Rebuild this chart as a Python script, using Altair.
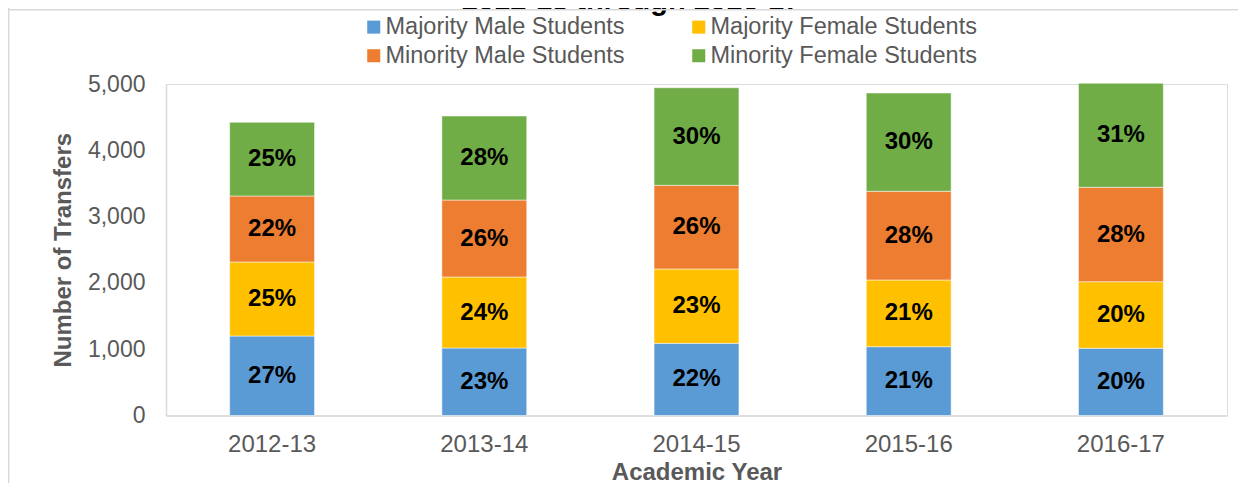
import altair as alt
import pandas as pd

years = ["2012-13", "2013-14", "2014-15", "2015-16", "2016-17"]
groups = ["Majority Male Students", "Majority Female Students",
          "Minority Male Students", "Minority Female Students"]
colors = ["#5B9BD5", "#FFC000", "#ED7D31", "#70AD47"]

majority_male = [1199, 1018, 1089, 1038, 1014]
majority_female = [1116, 1071, 1121, 1006, 1004]
minority_male = [996, 1161, 1262, 1338, 1424]
minority_female = [1111, 1267, 1472, 1482, 1569]

pct_majority_male = ["27%", "23%", "22%", "21%", "20%"]
pct_majority_female = ["25%", "24%", "23%", "21%", "20%"]
pct_minority_male = ["22%", "26%", "26%", "28%", "28%"]
pct_minority_female = ["25%", "28%", "30%", "30%", "31%"]

y_ticks = [0, 1000, 2000, 3000, 4000, 5000]
title_fragment = "2012-13 through 2016-17"

series = [majority_male, majority_female, minority_male, minority_female]
pcts = [pct_majority_male, pct_majority_female, pct_minority_male, pct_minority_female]

rows = []
for i, y in enumerate(years):
    base = 0
    for g, (name, vals, labs) in enumerate(zip(groups, series, pcts)):
        v = vals[i]
        rows.append({"year": y, "group": name, "order": g, "value": v,
                     "y0": base, "y1": base + v, "mid": base + v / 2,
                     "label": labs[i]})
        base += v
df = pd.DataFrame(rows)

# legend fills column by column: arrange so rows read
# Majority Male | Majority Female  /  Minority Male | Minority Female
legend_order = [groups[0], groups[2], groups[1], groups[3]]
legend_colors = [colors[0], colors[2], colors[1], colors[3]]

W, H = 1061, 331.5
PAD_L, PAD_T = 158, 76

x_enc = alt.X("year:N", sort=years,
              scale=alt.Scale(paddingInner=0.6, paddingOuter=0.3),
              axis=alt.Axis(title="Academic Year", labelAngle=0, ticks=False,
                            labelFontSize=24, labelColor="#595959",
                            labelFont="Liberation Sans", labelPadding=17,
                            domainColor="#D9D9D9", domainWidth=1.5,
                            titleFont="Liberation Sans", titleFontSize=24,
                            titleFontWeight="bold", titleColor="#595959",
                            titlePadding=4))

base = alt.Chart(df)

bars = base.mark_bar(stroke="white", strokeWidth=0.5).encode(
    x=x_enc,
    y=alt.Y("y0:Q", scale=alt.Scale(domain=[0, 5000], nice=False),
            axis=alt.Axis(title="Number of Transfers", values=y_ticks, format=",.0f",
                          ticks=False, grid=False, labelFontSize=23,
                          labelColor="#595959", labelFont="Liberation Sans",
                          labelPadding=21, domainColor="#D9D9D9", domainWidth=1.5,
                          titleFont="Liberation Sans", titleFontSize=24,
                          titleFontWeight="bold", titleColor="#595959",
                          titlePadding=12)),
    y2="y1:Q",
    color=alt.Color("group:N", sort=legend_order,
                    scale=alt.Scale(domain=legend_order, range=legend_colors),
                    legend=alt.Legend(title=None, orient="none", legendX=196, legendY=-69,
                                      columns=2, columnPadding=62, rowPadding=4,
                                      symbolType="square", symbolSize=170,
                                      symbolStrokeWidth=0, labelFontSize=23.5,
                                      labelFont="Liberation Sans", labelColor="#595959",
                                      labelLimit=0, labelOffset=0)),
    order="order:Q",
)

labels = base.mark_text(font="Liberation Sans", fontSize=24, fontWeight="bold",
                        color="black", baseline="middle", align="center").encode(
    x=alt.X("year:N", sort=years),
    y=alt.Y("mid:Q"),
    text="label:N",
)

frame_df = pd.DataFrame({"k": [0]})
frame_left = alt.Chart(frame_df).mark_rule(color="#D9D9D9", strokeWidth=1.5).encode(
    x=alt.value(-157.3), y=alt.value(-76), y2=alt.value(H + 70))
frame_top = alt.Chart(frame_df).mark_rule(color="#D9D9D9", strokeWidth=1.5).encode(
    x=alt.value(-158), x2=alt.value(W + 11), y=alt.value(-74.3))

# the title above the chart frame is cut off in the reference; only its lower edge shows
title_txt = alt.Chart(pd.DataFrame({"t": [title_fragment]})).mark_text(
    font="Liberation Sans", fontSize=29, fontWeight="bold", color="black",
    align="center", baseline="alphabetic").encode(
    x=alt.value(465), y=alt.value(-74), text="t:N")

chart = alt.layer(title_txt, frame_left, frame_top, bars, labels).properties(
    width=W, height=H,
    padding={"left": PAD_L, "top": PAD_T, "right": 11, "bottom": 68},
    autosize=alt.AutoSizeParams(type="none"),
).configure_view(stroke=None).configure(background="white")

chart.save("out.html", embed_options={"renderer": "svg", "actions": False})
